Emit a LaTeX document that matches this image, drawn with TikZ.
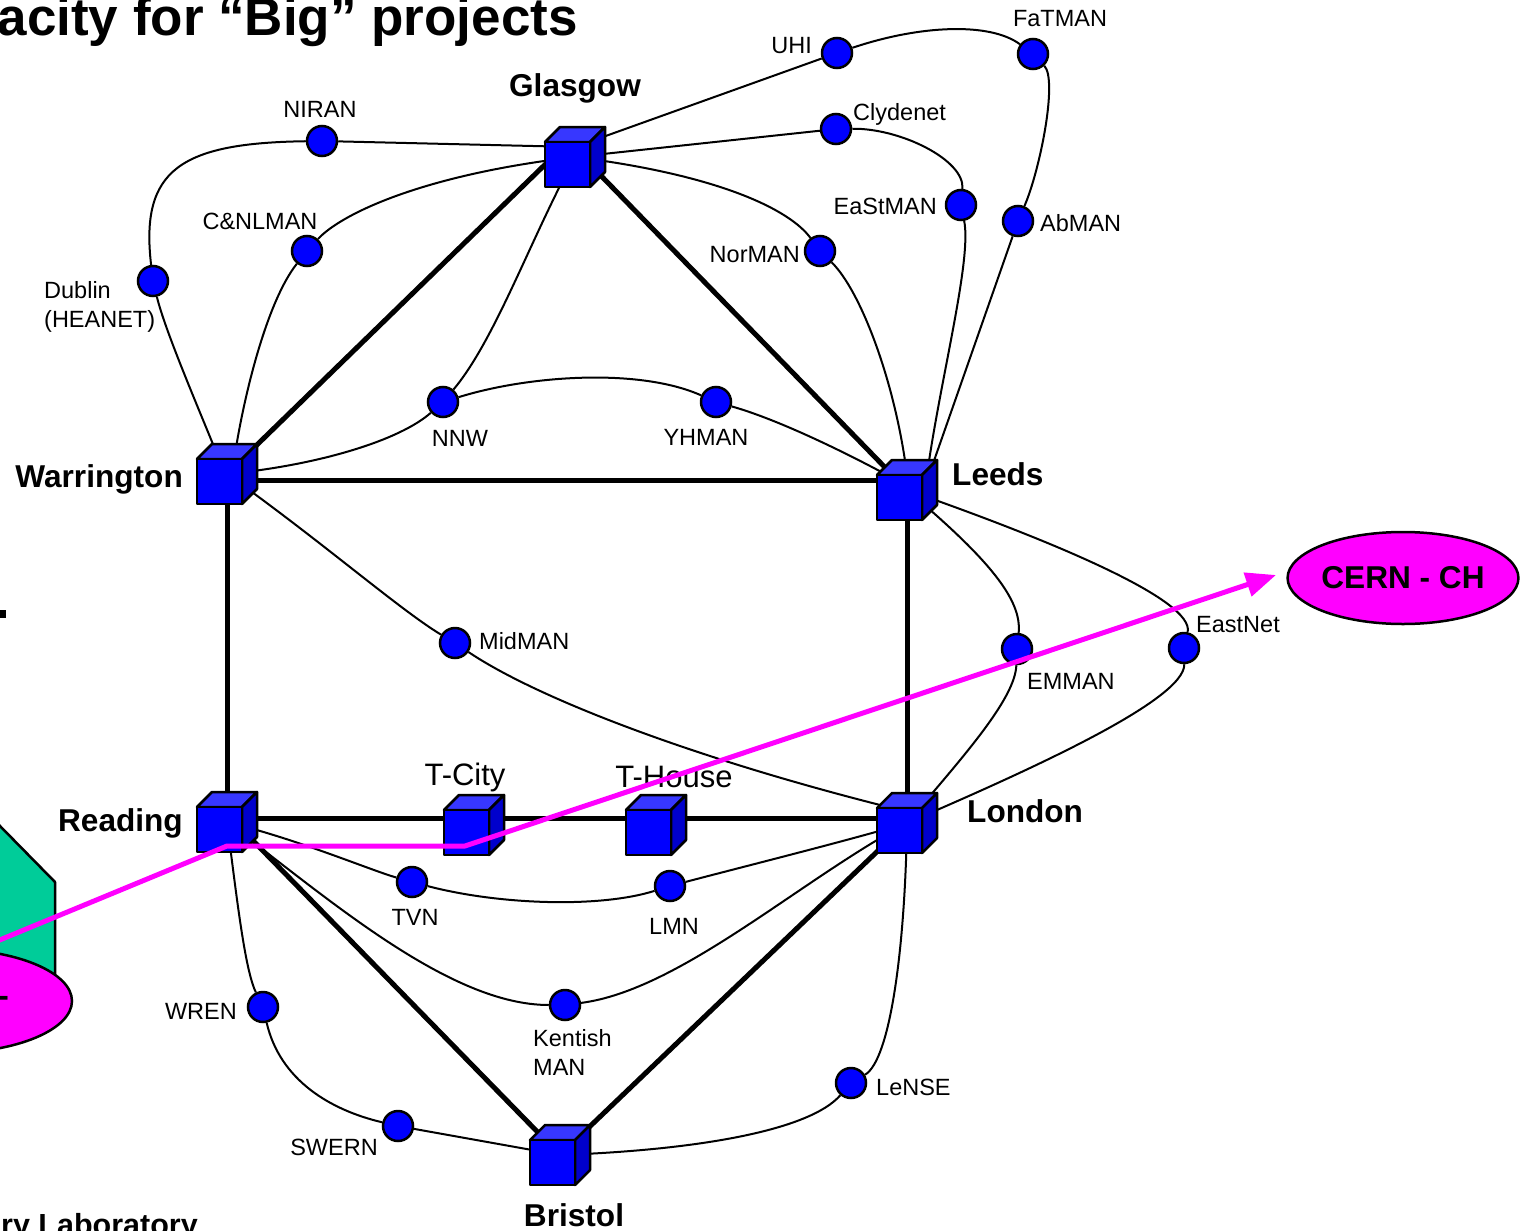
\documentclass[tikz,border=0pt]{standalone}
\usepackage{fontspec}
\setmainfont{Liberation Sans}
\usetikzlibrary{calc,shapes.geometric,arrows.meta}
\definecolor{cubefront}{HTML}{0000FF}
\definecolor{cubetop}{HTML}{3737FF}
\definecolor{cubeside}{HTML}{0000CC}
\definecolor{sitefill}{HTML}{0000FF}
\definecolor{magline}{HTML}{FF00FF}
\definecolor{greenbox}{HTML}{00CC99}
\newcommand\lblfont{\fontsize{23.5}{28}\selectfont}
\newcommand\cityfont{\fontsize{31.6}{36}\selectfont\bfseries}
\newcommand\labfont{\fontsize{30.5}{36}\selectfont\bfseries}
\newcommand\tfont{\fontsize{31}{36}\selectfont}
\newcommand\titlefont{\fontsize{53}{60}\selectfont\bfseries}
\begin{document}
\begin{tikzpicture}[x=1pt,y=-1pt,
  site/.style={circle,draw=black,fill=sitefill,line width=2.5pt,minimum size=30pt,inner sep=0pt},
  lbl/.style={font=\lblfont,inner sep=0pt},
  city/.style={font=\cityfont,inner sep=0pt},
  tlbl/.style={font=\tfont,inner sep=0pt},
  thin link/.style={draw=black,line width=2pt},
  thick link/.style={draw=black,line width=5pt},
  cube/.pic={
    \filldraw[fill=cubetop,line width=2.5pt,line join=round] (-30,-15) -- (-15,-30) -- (30,-30) -- (15,-15) -- cycle;
    \filldraw[fill=cubeside,line width=2.5pt,line join=round] (15,-15) -- (30,-30) -- (30,15) -- (15,30) -- cycle;
    \filldraw[fill=cubefront,line width=2.5pt,line join=round] (-30,-15) rectangle (15,30);
  }]
\useasboundingbox (0,0) rectangle (1526,1231);
\clip (0,0) rectangle (1526,1231);
\fill[white] (0,0) rectangle (1526,1231);

% clipped left-hand material
\node[font=\titlefont,inner sep=0pt,anchor=base east] (title) at (578,36) {Capacity for “Big” projects};
\node[font=\labfont,inner sep=0pt,anchor=base east] (lab) at (198,1235) {Daresbury Laboratory};
\fill[black] (0,610) rectangle (6,618);
\filldraw[fill=greenbox,draw=black,line width=2.5pt,line join=round] (-80,745) -- (0,826) -- (55,882) -- (55,990) -- (-80,990) -- cycle;
\node[ellipse,draw=black,fill=magline,line width=2.5pt,minimum width=250pt,minimum height=104pt,inner sep=0pt] (leftell) at (-53,1001) {};
\node[city,anchor=east] (dash) at (9,1001) {-};

% cube positions
\coordinate (G) at (575,157);
\coordinate (W) at (227,474);
\coordinate (L) at (907,490);
\coordinate (R) at (227,822);
\coordinate (Lo) at (907,823);
\coordinate (B) at (560,1155);
\coordinate (TC) at (474,825);
\coordinate (TH) at (656,825);

% sites
\node[site] (UHI) at (837,53) {};
\node[site] (FaT) at (1033,54) {};
\node[site] (Cly) at (836,129) {};
\node[site] (EaSt) at (961,205) {};
\node[site] (Ab) at (1018,221) {};
\node[site] (Nor) at (820,251) {};
\node[site] (NIRAN) at (322,141) {};
\node[site] (CNL) at (307,251) {};
\node[site] (Dub) at (153,281) {};
\node[site] (NNW) at (443,402) {};
\node[site] (YH) at (716,402) {};
\node[site] (Mid) at (455,643) {};
\node[site] (EM) at (1017,649) {};
\node[site] (East) at (1184,648) {};
\node[site] (TVN) at (412,882) {};
\node[site] (LMN) at (670,886) {};
\node[site] (Kent) at (565,1005) {};
\node[site] (WREN) at (263,1007) {};
\node[site] (SWERN) at (398,1126) {};
\node[site] (LeNSE) at (851,1083) {};

% thin links
\draw[thin link] ($(G)+(0,-10)$) -- (UHI);
\draw[thin link] (UHI) .. controls (920,25) and (990,22) .. (FaT);
\draw[thin link] (FaT) .. controls (1058,80) and (1040,170) .. (Ab);
\draw[thin link] (Ab) -- ($(L)+(22,-15)$);
\draw[thin link] (G) -- (Cly);
\draw[thin link] (Cly) .. controls (900,128) and (965,160) .. (EaSt);
\draw[thin link] (EaSt) .. controls (972,260) and (940,380) .. ($(L)+(20,-15)$);
\draw[thin link] (G) .. controls (720,175) and (790,210) .. (Nor);
\draw[thin link] (Nor) .. controls (860,290) and (895,380) .. ($(L)+(0,-15)$);
\draw[thin link] ($(G)+(0,-10)$) -- (NIRAN);
\draw[thin link] (NIRAN) .. controls (180,143) and (140,170) .. (Dub);
\draw[thin link] (Dub) .. controls (165,330) and (195,400) .. ($(W)+(-10,-20)$);
\draw[thin link] (G) .. controls (420,175) and (340,215) .. (CNL);
\draw[thin link] (CNL) .. controls (268,300) and (245,390) .. ($(W)+(8,-20)$);
\draw[thin link] (G) .. controls (530,240) and (495,340) .. (NNW);
\draw[thin link] (W) .. controls (320,465) and (400,440) .. (NNW);
\draw[thin link] (NNW) .. controls (530,375) and (640,368) .. (YH);
\draw[thin link] (YH) .. controls (780,420) and (850,455) .. ($(L)+(-20,-15)$);
\draw[thin link] (W) .. controls (320,540) and (400,610) .. (Mid);
\draw[thin link] (Mid) .. controls (540,700) and (700,760) .. ($(Lo)+(-15,-15)$);
\draw[thin link] (L) .. controls (990,560) and (1022,600) .. (EM);
\draw[thin link] (EM) .. controls (1015,700) and (960,760) .. (Lo);
\draw[thin link] (L) .. controls (1050,540) and (1195,600) .. (East);
\draw[thin link] (East) .. controls (1185,700) and (1030,770) .. (Lo);
\draw[thin link] (R) .. controls (300,840) and (370,870) .. (TVN);
\draw[thin link] (TVN) .. controls (500,905) and (600,908) .. (LMN);
\draw[thin link] (LMN) .. controls (750,865) and (850,840) .. (Lo);
\draw[thin link] (R) .. controls (330,900) and (450,1005) .. (Kent);
\draw[thin link] (Kent) .. controls (680,990) and (800,880) .. (Lo);
\draw[thin link] (R) .. controls (237,900) and (245,970) .. (WREN);
\draw[thin link] (WREN) .. controls (280,1080) and (330,1110) .. (SWERN);
\draw[thin link] (SWERN) -- (B);
\draw[thin link] (Lo) .. controls (905,950) and (890,1060) .. (LeNSE);
\draw[thin link] (LeNSE) .. controls (810,1130) and (700,1150) .. (B);

% thick links
\draw[thick link] ($(W)+(0,6)$) -- ($(L)+(0,-10)$);
\draw[thick link] (W) -- (R);
\draw[thick link] (L) -- (Lo);
\draw[thick link] ($(R)+(0,-4)$) -- ($(Lo)+(0,-5)$);
\draw[thick link] (W) -- ($(G)+(-15,-7)$);
\draw[thick link] ($(G)+(0,-8)$) -- (L);
\draw[thick link] ($(R)+(0,-8)$) -- (B);
\draw[thick link] (Lo) -- (B);

% cubes
\pic (Gc) at (G) {cube};
\pic (Wc) at (W) {cube};
\pic (Lc) at (L) {cube};
\pic (Rc) at (R) {cube};
\pic (Loc) at (Lo) {cube};
\pic (Bc) at (B) {cube};
\pic (TCc) at (TC) {cube};
\pic (THc) at (TH) {cube};

% site labels
\node[lbl,anchor=base east] (tUHI) at (812,54) {UHI};
\node[lbl,anchor=base] (tFaT) at (1060,27) {FaTMAN};
\node[lbl,anchor=base west] (tCly) at (853,120) {Clydenet};
\node[lbl,anchor=base east] (tEaSt) at (937,214) {EaStMAN};
\node[lbl,anchor=base west] (tAb) at (1040,231) {AbMAN};
\node[lbl,anchor=base east] (tNor) at (800,262) {NorMAN};
\node[lbl,anchor=base] (tNIRAN) at (320,117) {NIRAN};
\node[lbl,anchor=base] (tCNL) at (260,229) {C\&NLMAN};
\node[lbl,anchor=base west] (tDub1) at (44,298) {Dublin};
\node[lbl,anchor=base west] (tDub2) at (44,327) {(HEANET)};
\node[lbl,anchor=base] (tNNW) at (460,446) {NNW};
\node[lbl,anchor=base] (tYH) at (706,445) {YHMAN};
\node[lbl,anchor=base west] (tMid) at (479,649) {MidMAN};
\node[lbl,anchor=base west] (tEM) at (1027,689) {EMMAN};
\node[lbl,anchor=base west] (tEast) at (1196,632) {EastNet};
\node[lbl,anchor=base] (tTVN) at (415,925) {TVN};
\node[lbl,anchor=base] (tLMN) at (674,934) {LMN};
\node[lbl,anchor=base west] (tKent1) at (533,1046) {Kentish};
\node[lbl,anchor=base west] (tKent2) at (533,1075) {MAN};
\node[lbl,anchor=base east] (tWREN) at (237,1019) {WREN};
\node[lbl,anchor=base] (tSWERN) at (334,1155) {SWERN};
\node[lbl,anchor=base west] (tLeNSE) at (876,1095) {LeNSE};

% city labels
\node[city,anchor=base] (tG) at (575,96) {Glasgow};
\node[city,anchor=base east] (tW) at (183,487) {Warrington};
\node[city,anchor=base west] (tL) at (952,485) {Leeds};
\node[city,anchor=base east] (tR) at (183,831) {Reading};
\node[city,anchor=base west] (tLo) at (967,822) {London};
\node[city,anchor=base] (tB) at (574,1226) {Bristol};
\node[tlbl,anchor=base] (tTC) at (465,785) {T-City};
\node[tlbl,anchor=base] (tTH) at (674,787) {T-House};

% CERN
\node[ellipse,draw=black,fill=magline,line width=2.5pt,minimum width=226pt,minimum height=92pt,inner sep=0pt,font=\cityfont] (cern) at (1403,578) {CERN - CH};

% magenta route
\coordinate (magStart) at (-10,944);
\coordinate (magEnd) at (1276,575);
\draw[draw=magline,line width=5pt,line join=round,-{Triangle[length=30pt,width=24pt]}]
  (magStart) -- ($(R)+(0,24)$) -- ($(TC)+(-9,21)$) -- (magEnd);
\end{tikzpicture}
\end{document}
